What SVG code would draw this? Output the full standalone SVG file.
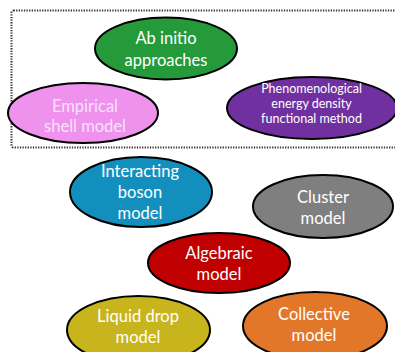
<svg xmlns="http://www.w3.org/2000/svg" width="395" height="352" viewBox="0 0 395 352">
  <style>
    .node ellipse { stroke: #000; stroke-width: 2; }
    .node text { font-family: Lato, "Open Sans", "Liberation Sans", sans-serif; fill: #fff; text-anchor: middle; font-size: 16.5px; }
    .node text.small { font-size: 12.5px; }
    .frame { fill: none; stroke: #333; stroke-width: 2; stroke-dasharray: 1.3 1.3; }
  </style>
  <rect width="395" height="352" fill="#fff"/>

  <!-- dotted frame around the microscopic approaches (right edge runs off the canvas) -->
  <rect class="frame" x="11.5" y="10.5" width="400" height="137" rx="2"/>

  <g id="connectors"></g>

  <g id="ab-initio" class="node">
    <ellipse cx="166" cy="48.5" rx="71" ry="31" fill="#259a3a"/>
    <text x="166" y="44">Ab initio</text>
    <text x="166" y="66">approaches</text>
  </g>

  <g id="empirical-shell" class="node">
    <ellipse cx="83" cy="113" rx="75" ry="30" fill="#ee92ee"/>
    <text x="85" y="112" style="fill:#fbe0fb">Empirical</text>
    <text x="85" y="132" style="fill:#fbe0fb">shell model</text>
  </g>

  <g id="phenomenological-edf" class="node">
    <ellipse cx="312" cy="108" rx="85" ry="31" fill="#7030a0"/>
    <text class="small" x="311.5" y="93">Phenomenological</text>
    <text class="small" x="311.5" y="108">energy density</text>
    <text class="small" x="311.5" y="123">functional method</text>
  </g>

  <g id="interacting-boson" class="node">
    <ellipse cx="141" cy="192" rx="71" ry="35" fill="#138fbe"/>
    <text x="140" y="177">Interacting</text>
    <text x="140" y="198">boson</text>
    <text x="140" y="219">model</text>
  </g>

  <g id="cluster" class="node">
    <ellipse cx="323" cy="206.5" rx="70" ry="31.5" fill="#7f7f7f"/>
    <text x="323" y="203">Cluster</text>
    <text x="323" y="224">model</text>
  </g>

  <g id="algebraic" class="node">
    <ellipse cx="219" cy="263" rx="71" ry="30" fill="#c00000"/>
    <text x="219" y="259">Algebraic</text>
    <text x="219" y="280">model</text>
  </g>

  <g id="liquid-drop" class="node">
    <ellipse cx="138.5" cy="330" rx="71.5" ry="34" fill="#c8b41c"/>
    <text x="138" y="322">Liquid drop</text>
    <text x="138" y="343">model</text>
  </g>

  <g id="collective" class="node">
    <ellipse cx="315" cy="326" rx="72" ry="34" fill="#e2772a"/>
    <text x="314" y="320">Collective</text>
    <text x="314" y="341">model</text>
  </g>
</svg>
